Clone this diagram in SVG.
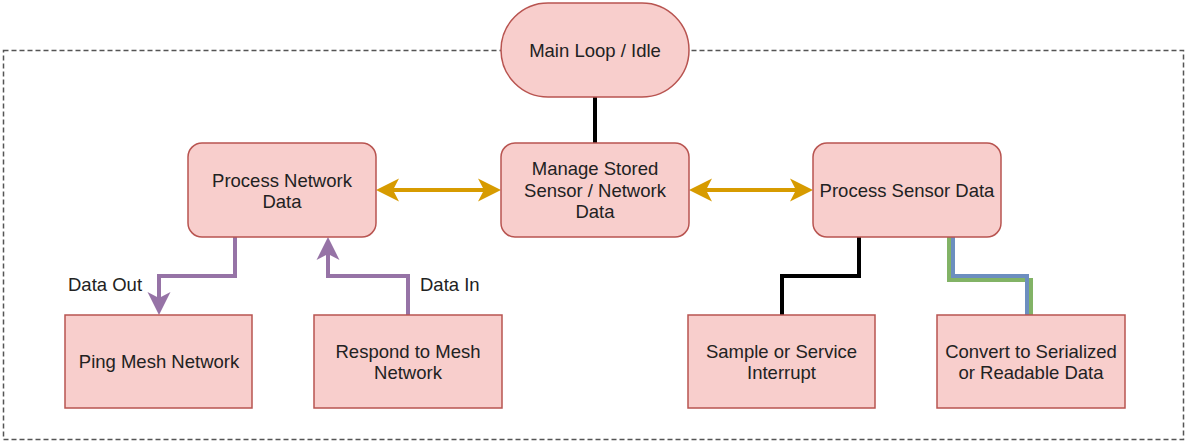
<svg xmlns="http://www.w3.org/2000/svg" width="1187" height="441" viewBox="0 0 1187 441">
<style>
.box{fill:#f8cecc;stroke:#b85450;stroke-width:1.5}
.t{font-family:"Liberation Sans",Arial,sans-serif;font-size:18.5px;fill:#222;text-anchor:middle}
.lbl{font-family:"Liberation Sans",Arial,sans-serif;font-size:18.5px;fill:#222}
.c{fill:none;stroke-width:4;stroke-linejoin:miter}
</style>
<defs>
<marker id="ao" viewBox="-10 -15 30 30" markerWidth="30" markerHeight="30" refX="0" refY="0" markerUnits="userSpaceOnUse" orient="auto-start-reverse">
<path d="M17,0 L-6,-11.5 L0,0 L-6,11.5 Z" fill="#d79b00"/>
</marker>
<marker id="ap" viewBox="-10 -15 30 30" markerWidth="30" markerHeight="30" refX="0" refY="0" markerUnits="userSpaceOnUse" orient="auto">
<path d="M17,0 L-6,-11.5 L0,0 L-6,11.5 Z" fill="#9673a6"/>
</marker>
</defs>
<rect id="frame" x="3.5" y="50.5" width="1180" height="389" fill="none" stroke="#555" stroke-width="1.5" stroke-dasharray="5 3"/>
<g id="connectors">
<path class="c" d="M595,97 V143" stroke="#000"/>
<path class="c" d="M393,190 H484" stroke="#d79b00" marker-start="url(#ao)" marker-end="url(#ao)"/>
<path class="c" d="M706,190 H796" stroke="#d79b00" marker-start="url(#ao)" marker-end="url(#ao)"/>
<path class="c" d="M235,237 V276 H159 V298" stroke="#9673a6" marker-end="url(#ap)"/>
<path class="c" d="M408,315 V276 H328 V254" stroke="#9673a6" marker-end="url(#ap)"/>
<path class="c" d="M859,237 V276 H782 V315" stroke="#000"/>
<path class="c" d="M949,237 V280 H1031 V315" stroke="#82b366"/>
<path class="c" d="M953,237 V276 H1027 V315" stroke="#6c8ebf"/>
<text class="lbl" x="68" y="290.5">Data Out</text>
<text class="lbl" x="420" y="290.5">Data In</text>
</g>
<g id="main-loop">
<rect class="box" x="501" y="3" width="188" height="94" rx="47"/>
<text class="t" x="595" y="56.5">Main Loop / Idle</text>
</g>
<g id="process-network">
<rect class="box" x="188" y="143" width="188" height="94" rx="14"/>
<text class="t" x="282" y="186.5">Process Network</text>
<text class="t" x="282" y="208">Data</text>
</g>
<g id="manage-stored">
<rect class="box" x="501" y="143" width="188" height="94" rx="14"/>
<text class="t" x="595" y="174.5">Manage Stored</text>
<text class="t" x="595" y="196.5">Sensor / Network</text>
<text class="t" x="595" y="218">Data</text>
</g>
<g id="process-sensor">
<rect class="box" x="813" y="143" width="188" height="94" rx="14"/>
<text class="t" x="907" y="197">Process Sensor Data</text>
</g>
<g id="ping-mesh">
<rect class="box" x="65" y="315" width="187" height="93"/>
<text class="t" x="159" y="368">Ping Mesh Network</text>
</g>
<g id="respond-mesh">
<rect class="box" x="314" y="315" width="188" height="93"/>
<text class="t" x="408" y="358">Respond to Mesh</text>
<text class="t" x="408" y="379">Network</text>
</g>
<g id="sample-interrupt">
<rect class="box" x="688" y="315" width="187" height="93"/>
<text class="t" x="781.5" y="358">Sample or Service</text>
<text class="t" x="781.5" y="379">Interrupt</text>
</g>
<g id="convert-data">
<rect class="box" x="937" y="315" width="188" height="93"/>
<text class="t" x="1031" y="358">Convert to Serialized</text>
<text class="t" x="1031" y="379">or Readable Data</text>
</g>
</svg>
